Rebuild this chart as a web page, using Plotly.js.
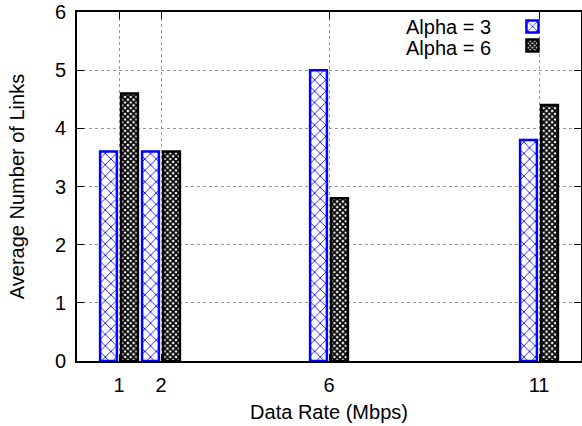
<!DOCTYPE html>
<html>
<head>
<meta charset="utf-8">
<script src="https://cdn.plot.ly/plotly-3.0.1.min.js"></script>
<style>html,body{margin:0;padding:0;background:#fff;}#chart{width:582px;height:426px;}</style>
</head>
<body>
<div id="chart"></div>
<script>
const rates = [1, 2, 6, 11];
const tickLabels = ['1', '2', '6', '11'];
const alpha3 = [3.6, 3.6, 5.0, 3.8];
const alpha6 = [4.6, 3.6, 2.8, 4.4];
const seriesNames = ['Alpha = 3', 'Alpha = 6'];

const FONT = 'Liberation Sans, Arial, Helvetica, sans-serif';
const FS = 20;

const traces = [
  {
    type: 'bar', x: rates, y: alpha3, name: ' ', showlegend: true,
    offset: -0.45, width: 0.4,
    marker: {
      color: '#ffffff',
      line: {color: '#0000ff', width: 2.5},
      pattern: {shape: 'x', fgcolor: '#0000ff', bgcolor: '#ffffff', size: 8, solidity: 0.2, fillmode: 'replace'}
    },
    hoverinfo: 'skip'
  },
  {
    type: 'bar', x: rates, y: alpha6, name: '  ', showlegend: true,
    offset: 0.05, width: 0.4,
    marker: {
      color: '#000000',
      line: {color: '#000000', width: 2.5},
      pattern: {shape: 'x', fgcolor: '#000000', bgcolor: '#ffffff', size: 4, solidity: 0.7, fillmode: 'replace'}
    },
    hoverinfo: 'skip'
  }
];

const axisCommon = {
  showline: true, linecolor: '#000', linewidth: 2, mirror: 'ticks',
  ticks: 'inside', ticklen: 7, tickwidth: 1, tickcolor: '#000',
  showgrid: true, gridcolor: '#999', griddash: 'dot', gridwidth: 1,
  zeroline: false,
  tickfont: {family: FONT, size: FS, color: '#000'},
  automargin: false
};

const layout = {
  width: 582, height: 426,
  margin: {l: 77, r: 1, t: 12, b: 65},
  paper_bgcolor: '#fff', plot_bgcolor: '#fff',
  barmode: 'overlay',
  font: {family: FONT, size: FS, color: '#000'},
  xaxis: Object.assign({}, axisCommon, {
    range: [0, 12], tickmode: 'array', tickvals: rates, ticktext: tickLabels,
    ticklabelstandoff: 5,
    title: {text: 'Data Rate (Mbps)', font: {family: FONT, size: FS, color: '#000'}, standoff: 10}
  }),
  yaxis: Object.assign({}, axisCommon, {
    range: [0, 6], tickmode: 'linear', tick0: 0, dtick: 1,
    ticklabelstandoff: 5,
    title: {text: 'Average Number of Links', font: {family: FONT, size: FS, color: '#000'}, standoff: 25}
  }),
  legend: {
    x: 0.864, y: 1.0, xanchor: 'left', yanchor: 'top',
    bgcolor: 'rgba(0,0,0,0)', borderwidth: 0,
    font: {family: FONT, size: 12, color: '#000'},
    tracegroupgap: 0, itemwidth: 30
  },
  annotations: [
    {xref: 'paper', yref: 'paper', x: 0.825, y: 0.957, xanchor: 'right', yanchor: 'middle',
     text: seriesNames[0], showarrow: false, font: {family: FONT, size: FS, color: '#000'}},
    {xref: 'paper', yref: 'paper', x: 0.825, y: 0.897, xanchor: 'right', yanchor: 'middle',
     text: seriesNames[1], showarrow: false, font: {family: FONT, size: FS, color: '#000'}}
  ]
};

Plotly.newPlot('chart', traces, layout, {displayModeBar: false, staticPlot: true});
</script>
</body>
</html>
